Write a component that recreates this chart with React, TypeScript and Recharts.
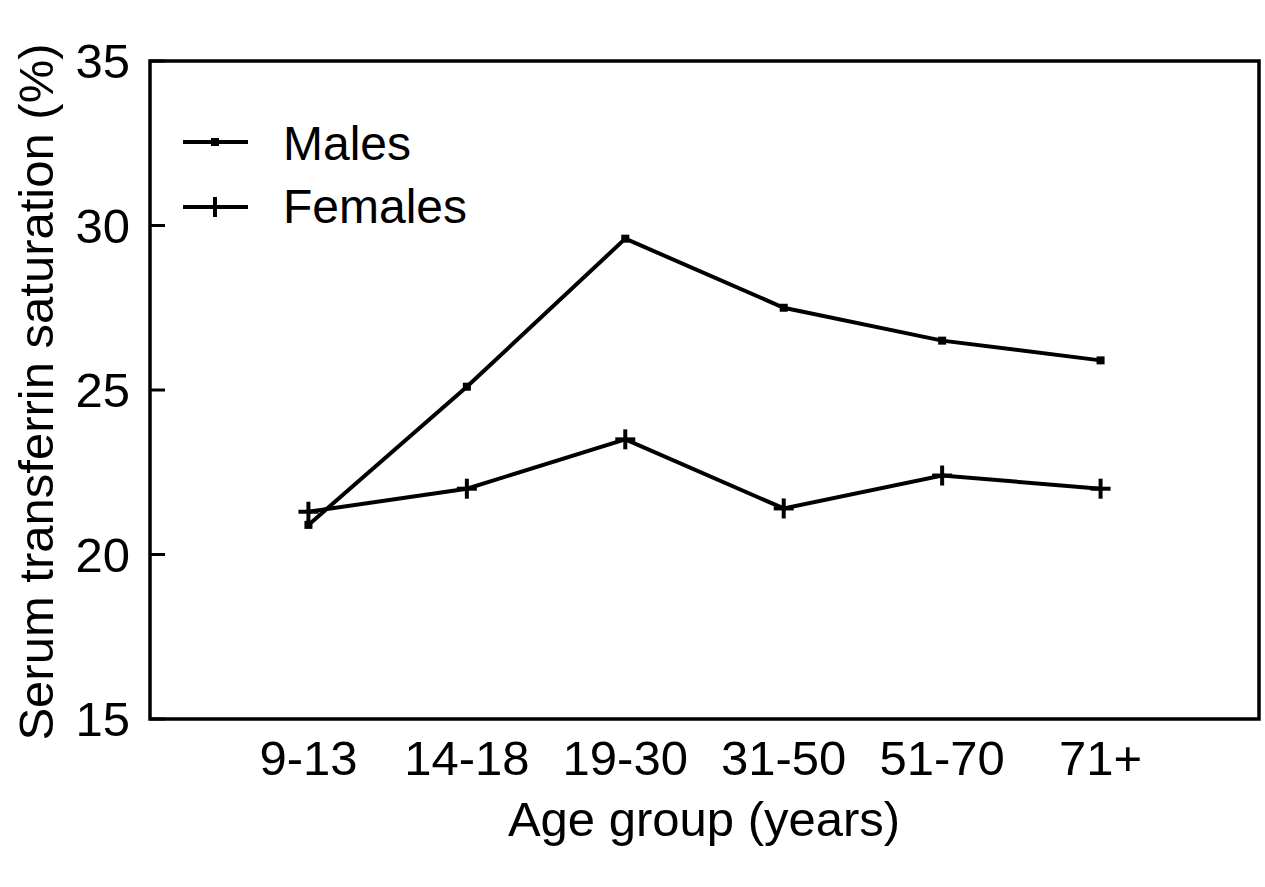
import React from 'react';
import {
  LineChart,
  Line,
  XAxis,
  YAxis,
  ReferenceArea,
  Legend,
  Label,
} from 'recharts';

const AGE_GROUPS = ['9-13', '14-18', '19-30', '31-50', '51-70', '71+'];
const MALES = [20.9, 25.1, 29.6, 27.5, 26.5, 25.9];
const FEMALES = [21.3, 22.0, 23.5, 21.4, 22.4, 22.0];
const Y_TICKS = [15, 20, 25, 30, 35];

const data = AGE_GROUPS.map((group, i) => ({
  pos: i + 1,
  group,
  males: MALES[i],
  females: FEMALES[i],
}));

const FONT = '"Liberation Sans", Arial, Helvetica, sans-serif';
const FS = 49;
const LW = 4;

const SquareDot = (props: any) => {
  const { cx, cy, index } = props;
  return <rect key={`sq-${index}`} x={cx - 4} y={cy - 4} width={8} height={8} fill="#000" />;
};

const PlusDot = (props: any) => {
  const { cx, cy, index } = props;
  return (
    <g key={`pl-${index}`}>
      <line x1={cx - 10} x2={cx + 10} y1={cy} y2={cy} stroke="#000" strokeWidth={LW} />
      <line x1={cx} x2={cx} y1={cy - 10} y2={cy + 10} stroke="#000" strokeWidth={LW} />
    </g>
  );
};

const LegendBox = () => (
  <svg width={320} height={130} style={{ display: 'block' }}>
    <line x1={0} x2={65} y1={32} y2={32} stroke="#000" strokeWidth={LW} />
    <rect x={28} y={28} width={8} height={8} fill="#000" />
    <text x={100} y={50} fontSize={48} fontFamily={FONT} fill="#000">Males</text>
    <line x1={0} x2={65} y1={97} y2={97} stroke="#000" strokeWidth={LW} />
    <line x1={32} x2={32} y1={87} y2={107} stroke="#000" strokeWidth={LW} />
    <text x={100} y={113} fontSize={48} fontFamily={FONT} fill="#000">Females</text>
  </svg>
);

const App: React.FC = () => {
  return (
    <div style={{ position: 'absolute', left: 0, top: 0, background: '#fff' }}>
      <LineChart
        width={1265}
        height={887}
        data={data}
        margin={{ top: 61, right: 6, bottom: 0, left: 0 }}
      >
        <XAxis
          dataKey="pos"
          type="number"
          domain={[0, 7]}
          ticks={[1, 2, 3, 4, 5, 6]}
          tickFormatter={(v: number) => AGE_GROUPS[v - 1] ?? ''}
          height={168}
          axisLine={false}
          tickLine={false}
          tickSize={0}
          tickMargin={21}
          tick={{ fill: '#000', fontSize: FS, fontFamily: FONT }}
        >
          <Label
            content={() => (
              <text x={704} y={836} textAnchor="middle" fontSize={FS} fontFamily={FONT} fill="#000">
                Age group (years)
              </text>
            )}
          />
        </XAxis>
        <YAxis
          type="number"
          domain={[15, 35]}
          ticks={Y_TICKS}
          width={150}
          axisLine={false}
          tickSize={-15}
          tickMargin={35}
          tickLine={{ stroke: '#000', strokeWidth: 3 }}
          tick={{ fill: '#000', fontSize: FS, fontFamily: FONT }}
        >
          <Label
            content={() => (
              <text
                x={36}
                y={392}
                transform="rotate(-90, 36, 392)"
                textAnchor="middle"
                dominantBaseline="central"
                fontSize={FS}
                fontFamily={FONT}
                fill="#000"
              >
                Serum transferrin saturation (%)
              </text>
            )}
          />
        </YAxis>
        <ReferenceArea x1={0} x2={7} y1={15} y2={35} fill="none" stroke="#000" strokeWidth={3.5} />
        <Legend
          layout="horizontal"
          verticalAlign="middle"
          align="center"
          content={() => <LegendBox />}
          wrapperStyle={{ position: 'absolute', left: 183, top: 110, width: 320, height: 130 }}
        />
        <Line
          type="linear"
          dataKey="males"
          name="Males"
          stroke="#000"
          strokeWidth={LW}
          dot={SquareDot}
          activeDot={false}
          isAnimationActive={false}
        />
        <Line
          type="linear"
          dataKey="females"
          name="Females"
          stroke="#000"
          strokeWidth={LW}
          dot={PlusDot}
          activeDot={false}
          isAnimationActive={false}
        />
      </LineChart>
    </div>
  );
};

export default App;
